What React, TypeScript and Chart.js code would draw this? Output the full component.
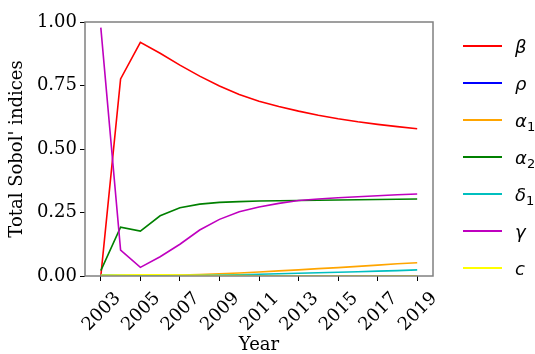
import React, { useEffect, useRef } from "react";
import { Chart, registerables } from "chart.js";

Chart.register(...registerables);

const years = [2003, 2004, 2005, 2006, 2007, 2008, 2009, 2010, 2011, 2012, 2013, 2014, 2015, 2016, 2017, 2018, 2019];
const xTickYears = [2003, 2005, 2007, 2009, 2011, 2013, 2015, 2017, 2019];
const yTicks = [0, 0.25, 0.5, 0.75, 1.0];

const beta = [0.0, 0.776, 0.92, 0.877, 0.83, 0.787, 0.748, 0.715, 0.688, 0.667, 0.649, 0.633, 0.619, 0.607, 0.597, 0.588, 0.58];
const rho = [0.001, 0.001, 0.001, 0.001, 0.001, 0.001, 0.001, 0.001, 0.001, 0.001, 0.001, 0.001, 0.001, 0.001, 0.001, 0.001, 0.001];
const alpha1 = [0.002, 0.002, 0.002, 0.003, 0.004, 0.006, 0.009, 0.012, 0.016, 0.02, 0.024, 0.029, 0.033, 0.038, 0.043, 0.048, 0.052];
const alpha2 = [0.021, 0.192, 0.177, 0.237, 0.269, 0.283, 0.29, 0.293, 0.295, 0.296, 0.297, 0.298, 0.299, 0.3, 0.301, 0.302, 0.303];
const delta1 = [0.004, 0.003, 0.002, 0.002, 0.002, 0.003, 0.004, 0.005, 0.007, 0.009, 0.011, 0.013, 0.015, 0.017, 0.019, 0.021, 0.024];
const gamma = [0.978, 0.102, 0.034, 0.076, 0.125, 0.181, 0.223, 0.253, 0.272, 0.286, 0.297, 0.303, 0.308, 0.312, 0.316, 0.32, 0.323];
const cParam = [0.003, 0.004, 0.005, 0.005, 0.004, 0.003, 0.002, 0.002, 0.001, 0.001, 0.001, 0.001, 0.001, 0.001, 0.001, 0.001, 0.001];

const seriesNames = ["β", "ρ", "α1", "α2", "δ1", "γ", "c"];
const seriesColors = ["#ff0000", "#0000ff", "#ffa500", "#008000", "#00bfbf", "#bf00bf", "#ffff00"];
const seriesValues = [beta, rho, alpha1, alpha2, delta1, gamma, cParam];

const frame = {
  id: "frame",
  afterDatasetsDraw(chart: any) {
    const { ctx, chartArea } = chart;
    ctx.save();
    ctx.strokeStyle = "#808080";
    ctx.lineWidth = 1.5;
    ctx.strokeRect(chartArea.left, chartArea.top, chartArea.right - chartArea.left, chartArea.bottom - chartArea.top);
    ctx.restore();
  },
};

function LegendLabel({ name }: { name: string }) {
  const base = name[0];
  const sub = name.slice(1);
  return (
    <span style={{ fontFamily: "'DejaVu Sans'", fontStyle: "italic", fontSize: 18 }}>
      {base}
      {sub && (
        <span style={{ fontStyle: "normal", fontSize: 13, position: "relative", top: 4 }}>{sub}</span>
      )}
    </span>
  );
}

export default function App() {
  const ref = useRef<HTMLCanvasElement>(null);
  useEffect(() => {
    document.body.style.margin = "0";
    const font = { family: "'DejaVu Serif'", size: 18 };
    const chart = new Chart(ref.current!, {
      type: "line",
      data: {
        datasets: seriesValues.map((vals, i) => ({
          label: seriesNames[i],
          data: years.map((y, j) => ({ x: y, y: vals[j] })),
          borderColor: seriesColors[i],
          backgroundColor: seriesColors[i],
          borderWidth: 1.6,
          pointRadius: 0,
          tension: 0,
          fill: false,
          order: seriesValues.length - i,
        })),
      },
      options: {
        animation: false,
        responsive: false,
        maintainAspectRatio: false,
        layout: { padding: { top: 22, right: 102, left: 0, bottom: 0 } },
        plugins: { legend: { display: false }, tooltip: { enabled: false } },
        scales: {
          x: {
            type: "linear",
            min: 2002.2,
            max: 2019.8,
            afterBuildTicks: (s: any) => {
              s.ticks = xTickYears.map((v) => ({ value: v }));
            },
            afterFit: (s: any) => {
              s.height = 78;
            },
            ticks: {
              callback: (v: any) => String(v),
              minRotation: 45,
              maxRotation: 45,
              autoSkip: false,
              color: "#000",
              font,
              padding: 7,
              labelOffset: 17,
            },
            grid: { display: true, drawOnChartArea: false, drawTicks: true, tickLength: 5, color: "#000" },
            border: { display: false },
            title: {
              display: true,
              text: "Year",
              color: "#000",
              font,
              padding: { top: 0, bottom: -2 },
            },
          },
          y: {
            type: "linear",
            min: 0,
            max: 1,
            afterBuildTicks: (s: any) => {
              s.ticks = yTicks.map((v) => ({ value: v }));
            },
            afterFit: (s: any) => {
              s.width = 85;
            },
            ticks: {
              callback: (v: any) => Number(v).toFixed(2),
              color: "#000",
              font,
              padding: 3,
            },
            grid: { display: true, drawOnChartArea: false, drawTicks: true, tickLength: 5, color: "#000" },
            border: { display: false },
            title: {
              display: true,
              text: "Total Sobol' indices",
              color: "#000",
              font,
              padding: { top: 7, bottom: 0 },
            },
          },
        },
      },
      plugins: [frame],
    } as any);
    return () => chart.destroy();
  }, []);

  return (
    <div style={{ position: "relative", width: 535, height: 354, overflow: "hidden", background: "#fff" }}>
      <canvas ref={ref} width={535} height={354} style={{ position: "absolute", left: 0, top: 0 }} />
      {seriesNames.map((n, i) => (
        <div key={n} style={{ position: "absolute", left: 463, top: 46 + i * 37 - 12, height: 24, display: "flex", alignItems: "center" }}>
          <div style={{ width: 39, height: 2, background: seriesColors[i] }} />
          <div style={{ marginLeft: 13, whiteSpace: "nowrap" }}>
            <LegendLabel name={n} />
          </div>
        </div>
      ))}
    </div>
  );
}
